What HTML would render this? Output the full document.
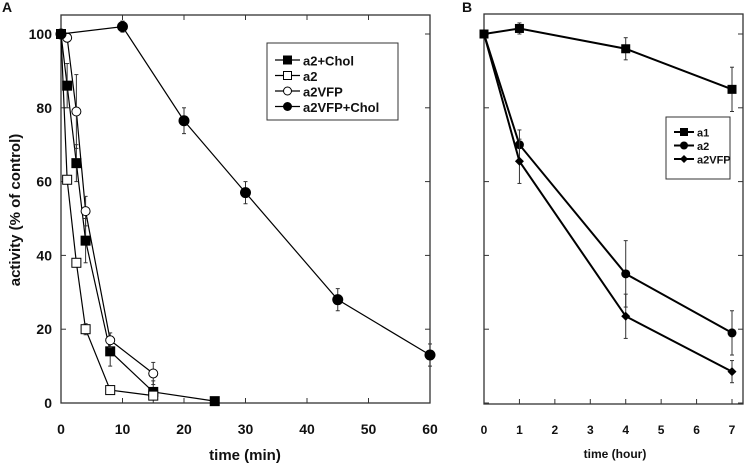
<!DOCTYPE html>
<html><head><meta charset="utf-8"><style>body{margin:0;background:#fff}svg{display:block}text{font-family:"Liberation Sans",sans-serif;font-weight:bold;fill:#111}</style></head>
<body>
<svg id="c" width="745" height="465" xmlns="http://www.w3.org/2000/svg"></svg>
<script>
const aTicksX=[0,10,20,30,40,50,60];
const aTicksY=[0,20,40,60,80,100];
const a2CholX=[0,1,2.5,4,8,15,25], a2CholY=[100,86,65,44,14,3,0.5], a2CholE=[0,6,5,6,4,3,0];
const a2X=[0,1,2.5,4,8,15], a2Y=[100,60.5,38,20,3.5,2], a2E=[0,1,1,1.5,1,1];
const a2vfpX=[0,1,2.5,4,8,15], a2vfpY=[100,99,79,52,17,8], a2vfpE=[0,1,10,4,2,3];
const a2vfpCholX=[0,10,20,30,45,60], a2vfpCholY=[100,102,76.5,57,28,13], a2vfpCholE=[0,1.5,3.5,3,3,3];
const bTicksX=[0,1,2,3,4,5,6,7];
const bX=[0,1,4,7];
const a1Y=[100,101.5,96,85], a1E=[0,1.5,3,6];
const b2Y=[100,70,35,19], b2E=[0,4,9,6];
const bvY=[100,65.5,23.5,8.5], bvE=[0,6,6,3];

const svg=document.getElementById('c');const NS='http://www.w3.org/2000/svg';
function el(t,a,p){const e=document.createElementNS(NS,t);for(const k in a)e.setAttribute(k,a[k]);(p||svg).appendChild(e);return e;}
const yS=v=>403-v*3.69;
const axA=v=>61+v*6.15;
const axB=v=>484+v*35.43;
// panel A frame
let f=el('rect',{x:61,y:15,width:369,height:388,fill:'none',stroke:'#333','stroke-width':1.3});

aTicksX.forEach(v=>{el('line',{x1:axA(v),x2:axA(v),y1:403,y2:398,stroke:'#333'});el('line',{x1:axA(v),x2:axA(v),y1:15,y2:20,stroke:'#333'});
 let t=el('text',{x:axA(v),y:434,'text-anchor':'middle','font-size':14});t.textContent=v;});
aTicksY.forEach(v=>{el('line',{x1:61,x2:66,y1:yS(v),y2:yS(v),stroke:'#333'});el('line',{x1:430,x2:425,y1:yS(v),y2:yS(v),stroke:'#333'});
 let t=el('text',{x:52,y:yS(v)+5,'text-anchor':'end','font-size':14});t.textContent=v;});
let t=el('text',{x:245,y:460,'text-anchor':'middle','font-size':15});t.textContent='time (min)';
t=el('text',{x:0,y:0,'text-anchor':'middle','font-size':15,transform:'translate(20,210) rotate(-90)'});t.textContent='activity (% of control)';
t=el('text',{x:2,y:12,'font-size':14});t.textContent='A';
// panel B frame
f=el('rect',{x:484,y:14,width:259,height:390,fill:'none',stroke:'#333','stroke-width':1.3});

bTicksX.forEach(v=>{el('line',{x1:axB(v),x2:axB(v),y1:404,y2:399,stroke:'#333'});
 let t=el('text',{x:axB(v),y:434,'text-anchor':'middle','font-size':12});t.textContent=v;});
aTicksY.forEach(v=>{el('line',{x1:484,x2:489,y1:yS(v),y2:yS(v),stroke:'#333'});el('line',{x1:743,x2:738,y1:yS(v),y2:yS(v),stroke:'#333'});});
t=el('text',{x:615,y:458,'text-anchor':'middle','font-size':12});t.textContent='time (hour)';
t=el('text',{x:462,y:12,'font-size':14});t.textContent='B';

function marker(g,shape,x,y,s){
 if(shape==='sqF')el('rect',{x:x-s,y:y-s,width:2*s,height:2*s,fill:'#000'},g);
 if(shape==='sqO')el('rect',{x:x-s,y:y-s,width:2*s,height:2*s,fill:'#fff',stroke:'#000'},g);
 if(shape==='ciO')el('circle',{cx:x,cy:y,r:s,fill:'#fff',stroke:'#000'},g);
 if(shape==='ciF')el('circle',{cx:x,cy:y,r:s,fill:'#000'},g);
 if(shape==='di')el('polygon',{points:`${x},${y-s} ${x+s},${y} ${x},${y+s} ${x-s},${y}`,fill:'#000'},g);
}
function series(name,xs,ys,es,sx,shape,s,w){
 const g=el('g',{});
 el('polyline',{points:xs.map((x,i)=>sx(x)+','+yS(ys[i])).join(' '),fill:'none',stroke:'#000','stroke-width':w},g);
 xs.forEach((x,i)=>{if(es[i]>0){const X=sx(x);el('line',{x1:X,x2:X,y1:yS(ys[i]+es[i]),y2:yS(ys[i]-es[i]),stroke:'#333'},g);
  [ys[i]+es[i],ys[i]-es[i]].forEach(v=>el('line',{x1:X-2,x2:X+2,y1:yS(v),y2:yS(v),stroke:'#333'},g));}});
 xs.forEach((x,i)=>marker(g,shape,sx(x),yS(ys[i]),s));
}
series('series-a2-chol',a2CholX,a2CholY,a2CholE,axA,'sqF',5,1.2);
series('series-a2',a2X,a2Y,a2E,axA,'sqO',4.5,1.2);
series('series-a2vfp',a2vfpX,a2vfpY,a2vfpE,axA,'ciO',4.5,1.2);
series('series-a2vfp-chol',a2vfpCholX,a2vfpCholY,a2vfpCholE,axA,'ciF',5.5,1.2);
series('series-b-a1',bX,a1Y,a1E,axB,'sqF',4.5,2);
series('series-b-a2',bX,b2Y,b2E,axB,'ciF',4.5,2);
series('series-b-a2vfp',bX,bvY,bvE,axB,'di',4.5,2);

function legend(name,x,y,w,h,items,lx,ty,fs,lw){
 const g=el('g',{});
 el('rect',{x,y,width:w,height:h,fill:'#fff',stroke:'#333'},g);
 items.forEach((it,i)=>{const yy=ty+i*(fs+2.5);
  el('line',{x1:x+8,x2:x+lx,y1:yy,y2:yy,stroke:'#000','stroke-width':lw},g);
  marker(g,it[1],x+8+(lx-8)/2,yy,it[2]);
  const tt=el('text',{x:x+lx+3,y:yy+fs/2-1,'font-size':fs},g);tt.textContent=it[0];
  });
}
legend('legend-a',267,43,131,77,[['a2+Chol','sqF',4.5],['a2','sqO',4],['a2VFP','ciO',4],['a2VFP+Chol','ciF',4.5]],33,60,13,1.2);
legend('legend-b',666,117,64,62,[['a1','sqF',4],['a2','ciF',4],['a2VFP','di',4]],28,132,11,2);
</script>
</body></html>
